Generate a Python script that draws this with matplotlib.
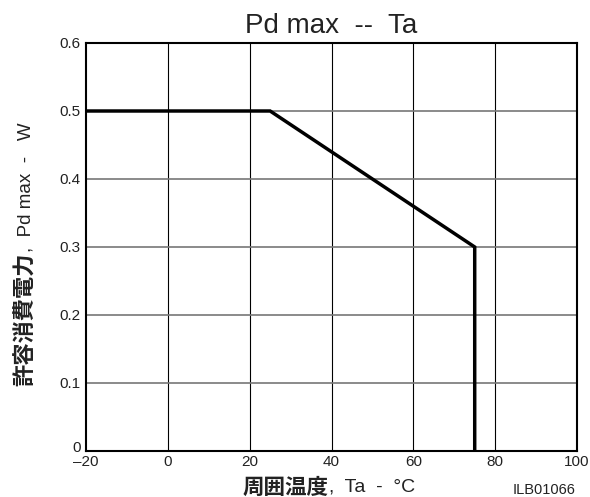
import numpy as np
import matplotlib.pyplot as plt
from matplotlib.transforms import ScaledTranslation

plt.rcParams['font.family'] = ['Liberation Sans', 'Noto Sans CJK JP']

# derating curve Pd max vs Ta
ta = [-20, 25, 75, 75]
pd_max = [0.5, 0.5, 0.3, 0.0]

x_ticks = [-20, 0, 20, 40, 60, 80, 100]
x_labels = ['–20', '0', '20', '40', '60', '80', '100']
y_ticks = [0, 0.1, 0.2, 0.3, 0.4, 0.5, 0.6]
y_labels = ['0', '0.1', '0.2', '0.3', '0.4', '0.5', '0.6']

W, H = 590, 497
fig = plt.figure(figsize=(W/100, H/100), dpi=100)
ax = fig.add_axes([86/W, 1-451/H, (577-86)/W, (451-43)/H])

ax.set_xlim(-20, 100)
ax.set_ylim(0, 0.6)
ax.set_xticks(x_ticks)
ax.set_xticklabels(x_labels, fontsize=11)
ax.set_yticks(y_ticks)
ax.set_yticklabels(y_labels, fontsize=11)
ax.tick_params(length=0, colors='#222222')
ax.tick_params(axis='x', pad=3)
ax.tick_params(axis='y', pad=4)

# the "0" label sits just above the bottom axis line
lbl0 = ax.get_yticklabels()[0]
lbl0.set_transform(lbl0.get_transform() + ScaledTranslation(0, 5/100, fig.dpi_scale_trans))

for x in x_ticks[1:-1]:
    ax.axvline(x, color='black', lw=0.8, zorder=1)
for y in y_ticks[1:-1]:
    ax.axhline(y, color='#777777', lw=1.2, zorder=1)

for s in ax.spines.values():
    s.set_linewidth(1.5)

ax.plot(ta, pd_max, color='black', lw=2.5, solid_joinstyle='miter', zorder=3)

fig.text(331/W, 1-33/H, 'Pd max  --  Ta', fontsize=20, color='#222222',
         ha='center', va='baseline')

# x label: bold kanji + normal latin
fig.text(329/W, 1-487/H, '周囲温度', fontsize=15.5, fontweight='bold',
         family='Noto Sans CJK JP', ha='right', va='center', color='#222222')
fig.text(329/W, 1-487/H, ',  Ta  -  °C', fontsize=14, ha='left', va='center', color='#222222')

# y label
fig.text(26/W, 1-252/H, '許容消費電力', fontsize=16, fontweight='bold', rotation=90,
         family='Noto Sans CJK JP', ha='center', va='top', color='#222222')
fig.text(26/W, 1-252/H, ',  Pd max  -   W', fontsize=13.5, rotation=90,
         ha='center', va='bottom', color='#222222')

fig.text(575/W, 1-490/H, 'ILB01066', fontsize=10.5, ha='right', va='center', color='#222222')

fig.savefig('out.png', dpi=100)
